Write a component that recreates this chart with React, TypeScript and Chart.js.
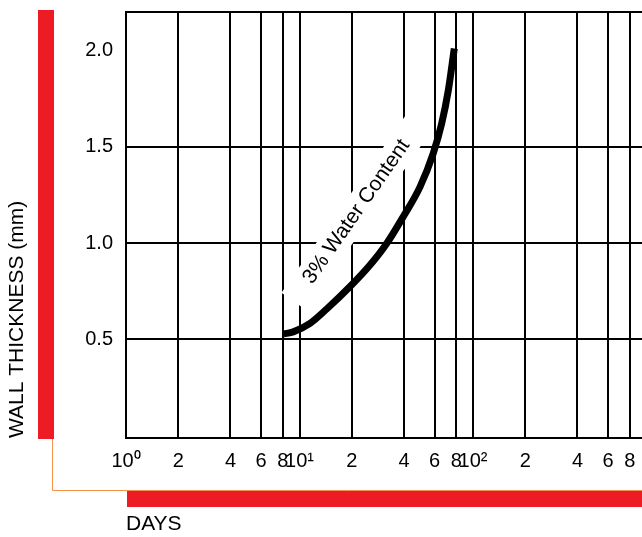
import React, { useEffect, useRef } from 'react';
import { Chart, registerables } from 'chart.js';

Chart.register(...registerables);

// ---- data ----
const DAYS = [8.1, 9.2, 11.5, 14.4, 19.5, 25.5, 31.8, 39.6, 49.5, 59.0, 66.0, 72.1, 78.0];
const THICKNESS = [0.528, 0.539, 0.583, 0.659, 0.773, 0.886, 0.998, 1.137, 1.292, 1.466, 1.621, 1.794, 2.011];
const SERIES_LABEL = '3% Water Content';

const X_TICKS = [1, 2, 4, 6, 8, 10, 20, 40, 60, 80, 100, 200, 400, 600, 800];
const X_TICK_LABELS = ['10⁰', '2', '4', '6', '8', '10¹', '2', '4', '6', '8', '10²', '2', '4', '6', '8'];
const Y_TICKS = [0.5, 1, 1.5, 2, 2.2];
const Y_TICK_LABELS = ['0.5', '1.0', '1.5', '2.0', ''];
const X_MIN = 1;
const X_MAX = 942;
const Y_MIN = -0.012;
const Y_MAX = 2.2;
const LABEL_ANCHOR_X = 21.3;
const LABEL_ANCHOR_Y = 1.163;

const X_TITLE = 'DAYS';
const Y_TITLE = 'WALL THICKNESS (mm)';

// ---- styles ----
const FONT = "'Liberation Sans', Arial, Helvetica, sans-serif";
const RED = '#ED1C24';
const ORANGE = '#F5924A';

const decorations = {
  id: 'decorations',
  beforeDraw(chart: any) {
    const { ctx, width, height } = chart;
    ctx.save();
    ctx.fillStyle = '#ffffff';
    ctx.fillRect(0, 0, width, height);
    // left red bar
    ctx.fillStyle = RED;
    ctx.fillRect(38, 10, 16, 429);
    // orange connector
    ctx.strokeStyle = ORANGE;
    ctx.lineWidth = 1;
    ctx.beginPath();
    ctx.moveTo(52.5, 439);
    ctx.lineTo(52.5, 490.5);
    ctx.lineTo(width, 490.5);
    ctx.stroke();
    // bottom red bar
    ctx.fillStyle = RED;
    ctx.fillRect(127, 491, width - 127, 16);
    ctx.restore();
  },
  beforeDatasetsDraw(chart: any) {
    const { ctx } = chart;
    const px = chart.scales.x.getPixelForValue(LABEL_ANCHOR_X);
    const py = chart.scales.y.getPixelForValue(LABEL_ANCHOR_Y);
    ctx.save();
    ctx.translate(px, py);
    ctx.rotate((-55 * Math.PI) / 180);
    ctx.font = `21px ${FONT}`;
    const w = ctx.measureText(SERIES_LABEL).width;
    ctx.fillStyle = '#ffffff';
    ctx.fillRect(-w / 2 - 24, -15, w + 48, 30);
    ctx.fillStyle = '#000000';
    ctx.textAlign = 'center';
    ctx.textBaseline = 'middle';
    ctx.fillText(SERIES_LABEL, 0, 0);
    ctx.restore();
  },
};

export default function App() {
  const ref = useRef<HTMLCanvasElement | null>(null);

  useEffect(() => {
    if (!ref.current) return;
    Chart.defaults.font.family = FONT;
    Chart.defaults.color = '#000';
    const chart = new Chart(ref.current, {
      type: 'line',
      data: {
        datasets: [
          {
            label: SERIES_LABEL,
            data: DAYS.map((d, i) => ({ x: d, y: THICKNESS[i] })),
            borderColor: '#000',
            borderWidth: 7,
            borderCapStyle: 'butt',
            borderJoinStyle: 'round',
            cubicInterpolationMode: 'monotone',
            pointRadius: 0,
            fill: false,
          },
        ],
      },
      options: {
        responsive: false,
        animation: false,
        devicePixelRatio: 1,
        layout: { padding: { top: 12, left: 0, right: 0, bottom: 0 } },
        plugins: { legend: { display: false }, tooltip: { enabled: false } },
        scales: {
          x: {
            type: 'logarithmic',
            min: X_MIN,
            max: X_MAX,
            bounds: 'data',
            afterBuildTicks: (s: any) => {
              s.ticks = X_TICKS.map((v) => ({ value: v }));
            },
            afterFit: (s: any) => {
              s.height = 99;
              s.paddingLeft = 0;
              s.paddingRight = 0;
            },
            grid: { color: '#000', lineWidth: 2, drawTicks: false },
            border: { display: true, color: '#000', width: 2 },
            ticks: {
              autoSkip: false,
              maxRotation: 0,
              minRotation: 0,
              padding: 11,
              color: '#000',
              font: { size: 20, family: FONT },
              callback: (_v: any, i: number) => X_TICK_LABELS[i],
            },
            title: {
              display: true,
              text: X_TITLE,
              align: 'start',
              color: '#000',
              font: { size: 21, family: FONT },
              padding: { top: 0, bottom: 0 },
            },
          },
          y: {
            type: 'linear',
            min: Y_MIN,
            max: Y_MAX,
            afterBuildTicks: (s: any) => {
              s.ticks = Y_TICKS.map((v) => ({ value: v }));
            },
            afterFit: (s: any) => {
              s.width = 126;
              s.paddingTop = 0;
              s.paddingBottom = 0;
            },
            grid: {
              color: (c: any) => (c.tick && c.tick.value === 2 ? 'rgba(0,0,0,0)' : '#000'),
              lineWidth: 2,
              drawTicks: false,
            },
            border: { display: true, color: '#000', width: 2 },
            ticks: {
              padding: 13,
              color: '#000',
              font: { size: 20, family: FONT },
              callback: (_v: any, i: number) => Y_TICK_LABELS[i],
            },
            title: {
              display: true,
              text: Y_TITLE,
              align: 'start',
              color: '#000',
              font: { size: 21, family: FONT },
              padding: { top: 5, bottom: 0 },
            },
          },
        },
      },
      plugins: [decorations],
    } as any);
    return () => chart.destroy();
  }, []);

  return (
    <div style={{ position: 'fixed', left: 0, top: 0, width: 642, height: 537, background: '#fff', overflow: 'hidden' }}>
      <canvas ref={ref} width={642} height={537} style={{ display: 'block' }} />
    </div>
  );
}
